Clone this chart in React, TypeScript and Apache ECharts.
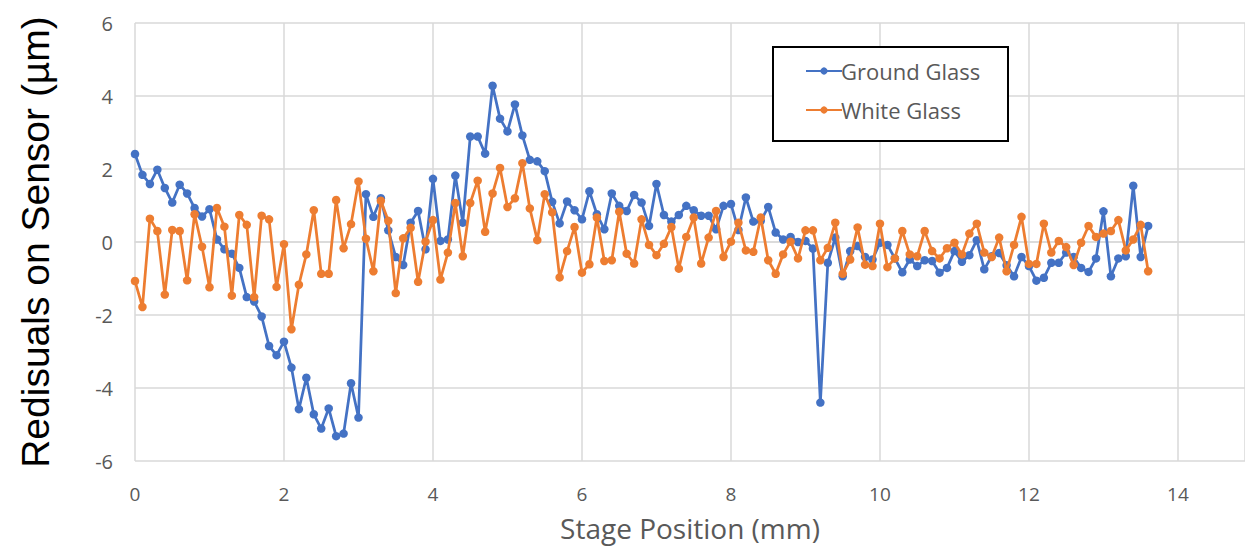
import React, { useEffect, useRef } from "react";
import * as echarts from "echarts";

const stagePositions: number[] = [
  0.0, 0.1, 0.2, 0.3, 0.4, 0.5, 0.6, 0.7, 0.8, 0.9,
  1.0, 1.1, 1.2, 1.3, 1.4, 1.5, 1.6, 1.7, 1.8, 1.9,
  2.0, 2.1, 2.2, 2.3, 2.4, 2.5, 2.6, 2.7, 2.8, 2.9,
  3.0, 3.1, 3.2, 3.3, 3.4, 3.5, 3.6, 3.7, 3.8, 3.9,
  4.0, 4.1, 4.2, 4.3, 4.4, 4.5, 4.6, 4.7, 4.8, 4.9,
  5.0, 5.1, 5.2, 5.3, 5.4, 5.5, 5.6, 5.7, 5.8, 5.9,
  6.0, 6.1, 6.2, 6.3, 6.4, 6.5, 6.6, 6.7, 6.8, 6.9,
  7.0, 7.1, 7.2, 7.3, 7.4, 7.5, 7.6, 7.7, 7.8, 7.9,
  8.0, 8.1, 8.2, 8.3, 8.4, 8.5, 8.6, 8.7, 8.8, 8.9,
  9.0, 9.1, 9.2, 9.3, 9.4, 9.5, 9.6, 9.7, 9.8, 9.9,
  10.0, 10.1, 10.2, 10.3, 10.4, 10.5, 10.6, 10.7, 10.8, 10.9,
  11.0, 11.1, 11.2, 11.3, 11.4, 11.5, 11.6, 11.7, 11.8, 11.9,
  12.0, 12.1, 12.2, 12.3, 12.4, 12.5, 12.6, 12.7, 12.8, 12.9,
  13.0, 13.1, 13.2, 13.3, 13.4, 13.5, 13.6,
];

const groundGlass: number[] = [
  2.41, 1.84, 1.59, 1.98, 1.48, 1.08, 1.57, 1.33, 0.93, 0.70,
  0.90, 0.07, -0.20, -0.32, -0.71, -1.51, -1.63, -2.04, -2.85, -3.10,
  -2.73, -3.44, -4.58, -3.72, -4.72, -5.11, -4.56, -5.32, -5.25, -3.87,
  -4.81, 1.31, 0.69, 1.20, 0.32, -0.41, -0.63, 0.53, 0.85, -0.20,
  1.73, 0.03, 0.07, 1.82, 0.53, 2.89, 2.89, 2.42, 4.28, 3.38,
  3.03, 3.77, 2.92, 2.25, 2.21, 1.94, 1.10, 0.51, 1.11, 0.87,
  0.62, 1.39, 0.76, 0.35, 1.33, 0.99, 0.85, 1.29, 1.08, 0.44,
  1.59, 0.74, 0.56, 0.74, 0.99, 0.87, 0.72, 0.72, 0.35, 0.99,
  1.04, 0.33, 1.22, 0.56, 0.58, 0.96, 0.26, 0.07, 0.14, 0.00,
  0.03, -0.18, -4.40, -0.57, 0.12, -0.94, -0.25, -0.11, -0.41, -0.48,
  -0.02, -0.08, -0.45, -0.83, -0.48, -0.66, -0.50, -0.52, -0.84, -0.71,
  -0.25, -0.54, -0.36, 0.05, -0.75, -0.39, -0.30, -0.64, -0.94, -0.41,
  -0.66, -1.06, -0.98, -0.57, -0.57, -0.29, -0.41, -0.71, -0.82, -0.45,
  0.84, -0.94, -0.45, -0.39, 1.54, -0.41, 0.44,
];

const whiteGlass: number[] = [
  -1.07, -1.78, 0.64, 0.30, -1.44, 0.33, 0.30, -1.05, 0.76, -0.13,
  -1.24, 0.93, 0.42, -1.47, 0.74, 0.47, -1.51, 0.72, 0.62, -1.23,
  -0.06, -2.39, -1.17, -0.34, 0.87, -0.87, -0.87, 1.15, -0.17, 0.49,
  1.66, 0.09, -0.80, 1.13, 0.58, -1.40, 0.10, 0.39, -1.09, 0.01,
  0.60, -1.03, -0.29, 1.07, -0.39, 1.07, 1.68, 0.28, 1.33, 2.03,
  0.96, 1.20, 2.16, 0.92, 0.05, 1.31, 0.81, -0.97, -0.25, 0.41,
  -0.84, -0.61, 0.67, -0.52, -0.50, 0.83, -0.32, -0.59, 0.62, -0.08,
  -0.36, -0.05, 0.41, -0.73, 0.14, 0.67, -0.59, 0.12, 0.85, -0.41,
  0.01, 0.53, -0.23, -0.27, 0.67, -0.50, -0.87, -0.34, 0.01, -0.45,
  0.32, 0.32, -0.50, -0.16, 0.53, -0.87, -0.48, 0.40, -0.62, -0.66,
  0.50, -0.69, -0.45, 0.30, -0.34, -0.39, 0.30, -0.25, -0.45, -0.17,
  -0.02, -0.34, 0.23, 0.50, -0.29, -0.41, 0.12, -0.80, -0.08, 0.69,
  -0.60, -0.60, 0.50, -0.29, 0.03, -0.14, -0.63, -0.02, 0.44, 0.14,
  0.23, 0.30, 0.60, -0.23, 0.07, 0.47, -0.80,
];

const seriesNames = ["Ground Glass", "White Glass"];
const seriesColors = ["#4472C4", "#ED7D31"];

export default function App() {
  const ref = useRef<HTMLDivElement>(null);
  useEffect(() => {
    if (!ref.current) return;
    const chart = echarts.init(ref.current, null, { renderer: "svg" });
    const gridColor = "#D9D9D9";
    const textColor = "#595959";
    const mk = (vals: number[]) => stagePositions.map((x, i) => [x, vals[i]]);
    chart.setOption({
      animation: false,
      backgroundColor: "#ffffff",
      grid: { left: 135, top: 23, right: 0, height: 438 },
      xAxis: {
        type: "value",
        min: 0,
        max: 14.9,
        interval: 2,
        name: "Stage Position (mm)",
        nameLocation: "middle",
        nameGap: 53,
        nameTextStyle: { fontFamily: "Open Sans", fontSize: 28, color: textColor },
        axisLine: { show: true, lineStyle: { color: gridColor, width: 1.5 } },
        axisTick: { show: false },
        axisLabel: {
          showMaxLabel: false,
          margin: 23,
          fontFamily: "Open Sans",
          fontSize: 19,
          color: textColor,
        },
        splitLine: { show: true, lineStyle: { color: gridColor, width: 1.5 } },
      },
      yAxis: {
        type: "value",
        min: -6,
        max: 6,
        interval: 2,
        name: "Redisuals on Sensor (µm)",
        nameLocation: "middle",
        nameGap: 80,
        nameTextStyle: { fontFamily: "Liberation Sans", fontSize: 39, color: "#000000" },
        axisLine: { show: false },
        axisTick: { show: false },
        axisLabel: {
          margin: 22,
          fontFamily: "Open Sans",
          fontSize: 20,
          color: textColor,
        },
        splitLine: { show: true, lineStyle: { color: gridColor, width: 1.5 } },
      },
      legend: {
        left: 800,
        top: 55,
        orient: "vertical",
        itemGap: 17,
        itemWidth: 36,
        itemHeight: 9,
        z: 10,
        textStyle: { fontFamily: "Open Sans", fontSize: 22, color: textColor, padding: [0, 0, 0, -6] },
        data: seriesNames,
      },
      graphic: [
        {
          type: "rect",
          left: 772,
          top: 46,
          shape: { width: 235, height: 94 },
          style: { fill: "#ffffff", stroke: "#000000", lineWidth: 2 },
          z: 1,
          silent: true,
        },
      ],
      series: [
        {
          name: seriesNames[0],
          type: "line",
          data: mk(groundGlass),
          symbol: "circle",
          symbolSize: 8.5,
          lineStyle: { width: 2.75, color: seriesColors[0] },
          itemStyle: { color: seriesColors[0] },
          z: 2,
        },
        {
          name: seriesNames[1],
          type: "line",
          data: mk(whiteGlass),
          symbol: "circle",
          symbolSize: 8.5,
          lineStyle: { width: 2.75, color: seriesColors[1] },
          itemStyle: { color: seriesColors[1] },
          z: 3,
        },
      ],
    });
    return () => chart.dispose();
  }, []);
  return (
    <div
      ref={ref}
      style={{ position: "fixed", left: 0, top: 0, width: 1245, height: 552, background: "#fff" }}
    />
  );
}
